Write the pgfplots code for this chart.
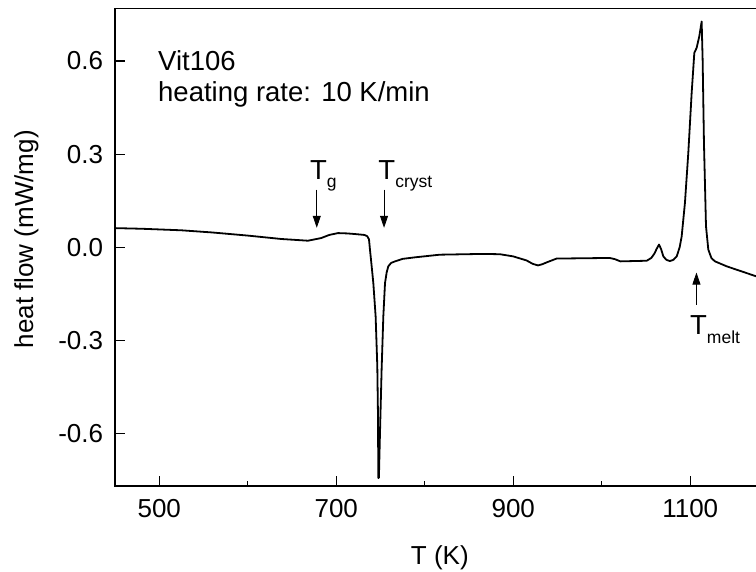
\documentclass[border=0pt]{standalone}
\usepackage{pgfplots}
\pgfplotsset{compat=1.18}
\usepackage{fontspec}
\setmainfont{Liberation Sans}
\usetikzlibrary{arrows.meta}
\pgfplotstableread{
x y
450 0.062
480 0.060
525 0.055
560 0.048
600 0.038
638 0.027
668 0.0215
683 0.030
692 0.040
702 0.046
712 0.045
721 0.043
732 0.040
735 0.036
737 0.026
738.1 -0.007
740 -0.060
741.9 -0.115
744.5 -0.222
746.4 -0.383
747.2 -0.55
747.5 -0.742
748.2 -0.742
749.4 -0.600
751.3 -0.390
753.2 -0.222
755.1 -0.115
757 -0.080
758.8 -0.061
762 -0.050
766.4 -0.045
775 -0.037
789 -0.032
817 -0.0235
866 -0.021
885 -0.022
900 -0.029
915 -0.042
922 -0.053
928 -0.058
933 -0.054
938 -0.048
949 -0.036
979 -0.035
1009 -0.034
1015 -0.038
1021 -0.045
1050.8 -0.043
1056 -0.034
1059.5 -0.020
1062 -0.005
1064.7 0.009
1067 -0.005
1069.6 -0.029
1073 -0.040
1077 -0.044
1081 -0.040
1084.7 -0.029
1088 0.000
1090.3 0.035
1094 0.143
1097.8 0.304
1101.6 0.497
1104.6 0.626
1107.2 0.642
1110.2 0.679
1112.9 0.727
1114 0.604
1115.5 0.336
1117.8 0.068
1120.4 -0.007
1124 -0.035
1128 -0.045
1141.2 -0.061
1174.4 -0.093
1190 -0.108
}\dsc
\begin{document}
\begin{tikzpicture}[font=\fontsize{26}{31}\selectfont]
\useasboundingbox (-115pt,-86pt) rectangle (641pt,486pt);
\clip (-115pt,-86pt) rectangle (641pt,486pt);
\begin{axis}[
  scale only axis,
  width=654.9pt, height=477.2pt,
  xmin=450, xmax=1190, ymin=-0.768, ymax=0.768,
  axis line style={line width=1.4pt},
  xtick={500,700,900,1100},
  minor xtick={600,800,1000},
  ytick={-0.6,-0.3,0,0.3,0.6},
  xtick pos=bottom, ytick pos=left,
  tick align=inside,
  major tick length=10pt, minor tick length=5pt,
  every tick/.style={line width=1.2pt, black},
  /pgf/number format/assume math mode=true,
  yticklabel style={/pgf/number format/fixed, /pgf/number format/fixed zerofill, /pgf/number format/precision=1, anchor=east, inner sep=0pt, xshift=-11.7pt},
  xticklabel style={/pgf/number format/1000 sep={}, anchor=base, inner sep=0pt, yshift=-32pt},
  xlabel={T (K)},
  ylabel={heat flow (mW/mg)},
  xlabel style={at={(axis description cs:0.496,-0.1654)}, anchor=base, inner sep=0pt},
  ylabel style={at={(axis description cs:-0.1252,0.517)}, anchor=base, inner sep=0pt, rotate=0},
  clip=true,
]
\addplot[black, line width=1.8pt, line join=round] table[x=x, y=y] {\dsc};
\begin{scope}[font=\fontsize{27.5}{32}\selectfont]
\node[anchor=base west, inner sep=0pt] at (axis cs:498.6,0.569) {Vit106};
\node[anchor=base west, inner sep=0pt] at (axis cs:498.6,0.470) {heating rate: 10 K/min};
\node[anchor=base west, inner sep=0pt] at (axis cs:670.3,0.218) {T\raisebox{-8pt}{\fontsize{17.5}{20}\selectfont g}};
\node[anchor=base west, inner sep=0pt] at (axis cs:747.5,0.218) {T\raisebox{-8pt}{\fontsize{17.5}{20}\selectfont cryst}};
\node[anchor=base west, inner sep=0pt] at (axis cs:1099.7,-0.281) {T\raisebox{-9pt}{\fontsize{17.5}{20}\selectfont melt}};
\end{scope}
\draw[line width=0.8pt, -{Triangle[length=12pt,width=8pt]}] (axis cs:678,0.186) -- (axis cs:678,0.063);
\draw[line width=0.8pt, -{Triangle[length=12pt,width=8pt]}] (axis cs:754,0.186) -- (axis cs:754,0.063);
\draw[line width=0.8pt, -{Triangle[length=12pt,width=8pt]}] (axis cs:1107,-0.184) -- (axis cs:1107,-0.081);
\end{axis}
\end{tikzpicture}
\end{document}
